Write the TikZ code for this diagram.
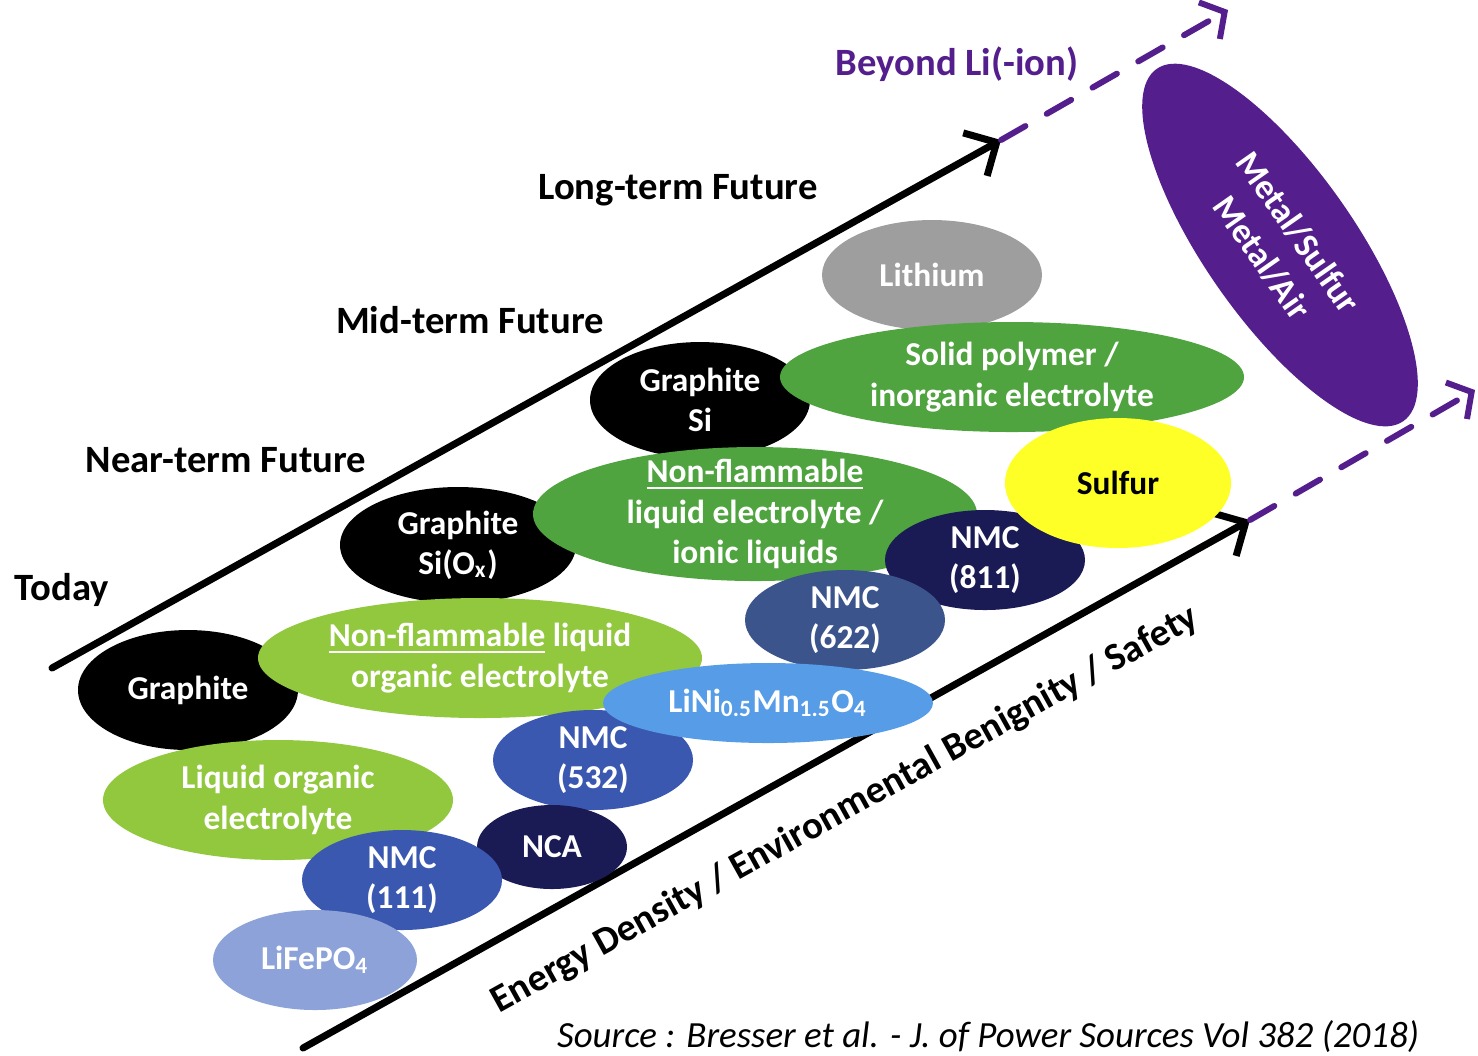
\documentclass[tikz,border=0pt]{standalone}
\usepackage{fontspec}
\setmainfont{Carlito}
\usetikzlibrary{shapes.geometric,arrows.meta}

\definecolor{leafgreen}{RGB}{146,200,62}
\definecolor{grassgreen}{RGB}{80,164,64}
\definecolor{nmcblue}{RGB}{58,88,176}
\definecolor{slateblue}{RGB}{60,84,140}
\definecolor{navy}{RGB}{26,26,84}
\definecolor{paleblue}{RGB}{140,162,216}
\definecolor{skyblue}{RGB}{86,156,230}
\definecolor{sulfuryellow}{RGB}{255,255,40}
\definecolor{lithiumgray}{RGB}{158,158,158}
\definecolor{beyondpurple}{RGB}{84,30,140}

\tikzset{
  blob/.style={shape=ellipse, inner xsep=0pt, inner ysep=-6pt, text=white, align=center,
               font=\bfseries\fontsize{9.5}{11.5}\selectfont},
  era/.style={font=\bfseries\fontsize{11}{13}\selectfont},
  timeline/.style={line width=2pt, line cap=round, -{Straight Barb[length=7pt,width=14pt]}},
  beyondline/.style={line width=1.7pt, line cap=round, beyondpurple, dash pattern=on 8pt off 7pt,
               -{Straight Barb[length=5pt,width=12pt]}},
}

\begin{document}
\begin{tikzpicture}
        \useasboundingbox (0,0) rectangle (14.78,-10.55);

        %time axes
        \coordinate (upStart) at (0.52,-6.68);
        \coordinate (upEnd) at (10.01,-1.40);
        \coordinate (upBeyond) at (12.28,-0.10);
        \coordinate (lowStart) at (3.03,-10.48);
        \coordinate (lowEnd) at (12.50,-5.20);
        \coordinate (lowBeyond) at (14.75,-3.90);
        \draw[timeline] (upStart) -- (upEnd);
        \draw[timeline] (lowStart) -- (lowEnd);
        \draw[beyondline] (upEnd) -- (upBeyond);
        \draw[beyondline] (lowEnd) -- (lowBeyond);

        %anodes
        \node[blob, fill=black, minimum width=2.2cm, minimum height=1.2cm] (graphite) at (1.88,-6.90) {Graphite};
        \node[blob, fill=black, minimum width=2.36cm, minimum height=1.16cm] (graphiteSiOx) at (4.58,-5.45) {Graphite\\Si(O\textsubscript{x})};
        \node[blob, fill=black, minimum width=2.2cm, minimum height=1.16cm] (graphiteSi) at (7.00,-4.00) {Graphite\\Si};
        \node[blob, fill=lithiumgray, minimum width=2.2cm, minimum height=1.1cm] (lithium) at (9.32,-2.75) {Lithium};

        %electrolytes, later stages
        \node[blob, fill=grassgreen, minimum width=4.64cm, minimum height=1.1cm] (solid) at (10.12,-3.77) {Solid polymer /\\inorganic electrolyte};
        \node[blob, fill=grassgreen, minimum width=4.44cm, minimum height=1.34cm] (ionic) at (7.55,-5.14) {\underline{Non-flammable}\\liquid electrolyte /\\ionic liquids};

        %cathodes, later stages
        \node[blob, fill=navy, minimum width=2.0cm, minimum height=1.0cm] (nmc811) at (9.85,-5.60) {NMC\\(811)};
        \node[blob, fill=slateblue, minimum width=2.0cm, minimum height=1.0cm] (nmc622) at (8.45,-6.20) {NMC\\(622)};
        \node[blob, fill=sulfuryellow, text=black, minimum width=2.26cm, minimum height=1.3cm] (sulfur) at (11.18,-4.83) {Sulfur};

        %electrolytes, today and near-term
        \node[blob, fill=leafgreen, minimum width=4.44cm, minimum height=1.2cm] (nonflam) at (4.80,-6.58) {\underline{Non-flammable} liquid\\organic electrolyte};
        \node[blob, fill=leafgreen, minimum width=3.5cm, minimum height=1.2cm] (liquid) at (2.78,-8.00) {Liquid organic\\electrolyte};

        %cathodes, today and near-term
        \node[blob, fill=nmcblue, minimum width=2.0cm, minimum height=1.0cm] (nmc532) at (5.93,-7.60) {NMC\\(532)};
        \node[blob, fill=navy, minimum width=1.5cm, minimum height=0.84cm] (nca) at (5.52,-8.47) {NCA};
        \node[blob, fill=nmcblue, minimum width=2.0cm, minimum height=1.0cm] (nmc111) at (4.02,-8.80) {NMC\\(111)};
        \node[blob, fill=paleblue, minimum width=2.04cm, minimum height=1.0cm] (lfp) at (3.15,-9.60) {LiFePO\textsubscript{4}};
        \node[blob, fill=skyblue, minimum width=3.3cm, minimum height=0.8cm] (lnmo) at (7.68,-7.03) {LiNi\textsubscript{0.5}Mn\textsubscript{1.5}O\textsubscript{4}};

        %beyond li-ion
        \node[blob, fill=beyondpurple, minimum width=4.3cm, minimum height=1.5cm, rotate=-55,
              font=\bfseries\fontsize{10}{12.5}\selectfont] (metal) at (12.80,-2.45) {Metal/Sulfur\\Metal/Air};

        %stage labels
        \node[era, text=beyondpurple] (beyondLabel) at (9.57,-0.64) {Beyond Li(-ion)};
        \node[era] (longTerm) at (6.78,-1.90) {Long-term Future};
        \node[era] (midTerm) at (4.70,-3.20) {Mid-term Future};
        \node[era] (nearTerm) at (2.26,-4.60) {Near-term Future};
        \node[era] (today) at (0.62,-5.90) {Today};
        \node[era, rotate=29] (axisLabel) at (8.45,-8.10) {Energy Density / Environmental Benignity / Safety};
        \node[font=\itshape\fontsize{10.5}{13}\selectfont] (source) at (9.88,-10.37) {Source : Bresser et al. - J. of Power Sources Vol 382 (2018)};
\end{tikzpicture}
\end{document}
